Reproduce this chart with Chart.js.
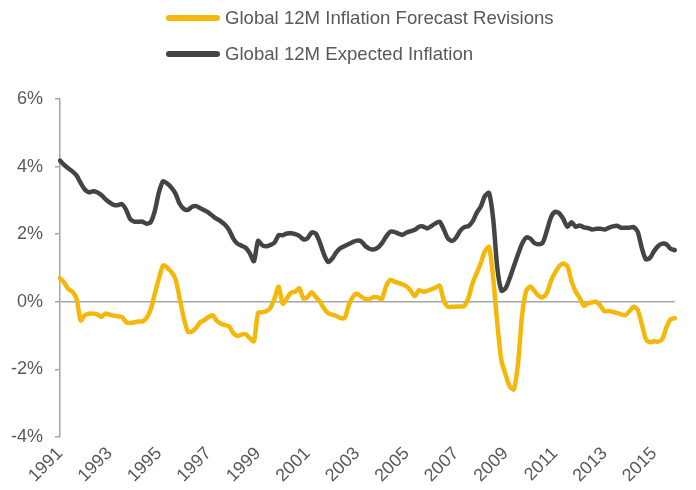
<!DOCTYPE html>
<html>
<head>
<meta charset="utf-8">
<script src="https://cdn.jsdelivr.net/npm/chart.js@4.4.1/dist/chart.umd.min.js"></script>
<style>
  body { margin: 0; background: #fff; }
  #wrap { position: relative; width: 696px; height: 490px; }
  #legend { position: absolute; left: 166px; top: 0; font-family: "Liberation Sans", Arial, sans-serif; font-size: 18.6px; color: #595959; }
  .item { position: absolute; left: 0; white-space: nowrap; height: 20px; line-height: 20px; }
  .swatch { position: absolute; left: 0; top: 7px; width: 54px; height: 6px; border-radius: 3px; }
  .item span { position: absolute; left: 59px; }
</style>
</head>
<body>
<div id="wrap">
  <canvas id="grafico" width="696" height="490"></canvas>
  <div id="legend"></div>
</div>
<script>
// every second month, Jan 1991 .. Nov 2015
const months = [];
for (let y = 1991; y <= 2015; y++) {
  for (let m = 1; m <= 11; m += 2) months.push(y + "-" + String(m).padStart(2, "0"));
}

const yearTicks = ["1991", "1993", "1995", "1997", "1999", "2001", "2003",
  "2005", "2007", "2009", "2011", "2013", "2015"];

const seriesNames = ["Global 12M Inflation Forecast Revisions", "Global 12M Expected Inflation"];
const seriesColors = ["#F4B80B", "#444444"];

// % values
const revisions = [
  0.70, 0.57, 0.38, 0.30, 0.10, -0.55, -0.40, -0.35, -0.35, -0.37, -0.45, -0.35,
  -0.38, -0.41, -0.43, -0.45, -0.60, -0.63, -0.61, -0.58, -0.58, -0.47, -0.22, 0.25,
  0.70, 1.08, 1.01, 0.88, 0.67, 0.10, -0.48, -0.88, -0.88, -0.77, -0.60, -0.54,
  -0.45, -0.40, -0.56, -0.65, -0.69, -0.73, -0.93, -1.01, -0.97, -0.96, -1.08, -1.17,
  -0.33, -0.31, -0.28, -0.18, 0.10, 0.45, -0.06, 0.10, 0.27, 0.30, 0.40, 0.10,
  0.14, 0.28, 0.14, 0.01, -0.20, -0.34, -0.38, -0.42, -0.48, -0.48, -0.10, 0.15,
  0.24, 0.15, 0.08, 0.08, 0.14, 0.13, 0.08, 0.45, 0.65, 0.60, 0.56, 0.52,
  0.45, 0.33, 0.17, 0.34, 0.30, 0.32, 0.37, 0.42, 0.48, 0.05, -0.15, -0.15,
  -0.14, -0.14, -0.12, 0.12, 0.55, 0.85, 1.15, 1.50, 1.62, 0.70, -0.65, -1.75,
  -2.15, -2.50, -2.59, -1.85, -0.40, 0.32, 0.45, 0.32, 0.18, 0.13, 0.26, 0.62,
  0.86, 1.05, 1.13, 1.05, 0.60, 0.30, 0.11, -0.12, -0.04, -0.02, 0.00, -0.12,
  -0.28, -0.27, -0.30, -0.33, -0.37, -0.40, -0.28, -0.15, -0.23, -0.65, -1.10, -1.20,
  -1.17, -1.18, -1.10, -0.75, -0.52, -0.48
];

const expected = [
  4.18, 4.05, 3.95, 3.86, 3.74, 3.52, 3.32, 3.24, 3.27, 3.24, 3.16, 3.04,
  2.94, 2.87, 2.86, 2.89, 2.73, 2.45, 2.37, 2.37, 2.37, 2.31, 2.36, 2.70,
  3.25, 3.57, 3.50, 3.38, 3.20, 2.90, 2.75, 2.72, 2.81, 2.83, 2.77, 2.71,
  2.64, 2.54, 2.45, 2.38, 2.28, 2.12, 1.87, 1.72, 1.66, 1.60, 1.44, 1.20,
  1.80, 1.68, 1.64, 1.68, 1.75, 1.97, 1.97, 2.02, 2.03, 2.00, 1.95, 1.85,
  1.88, 2.05, 2.02, 1.75, 1.40, 1.18, 1.28, 1.47, 1.59, 1.65, 1.71, 1.77,
  1.81, 1.79, 1.65, 1.57, 1.55, 1.60, 1.73, 1.92, 2.07, 2.07, 2.02, 1.98,
  2.05, 2.09, 2.13, 2.22, 2.23, 2.17, 2.24, 2.32, 2.37, 2.15, 1.88, 1.80,
  1.90, 2.10, 2.21, 2.24, 2.38, 2.63, 2.82, 3.13, 3.22, 2.45, 1.00, 0.33,
  0.40, 0.70, 1.05, 1.40, 1.72, 1.90, 1.87, 1.74, 1.70, 1.75, 2.10, 2.50,
  2.66, 2.62, 2.45, 2.22, 2.35, 2.22, 2.26, 2.20, 2.18, 2.14, 2.16, 2.16,
  2.14, 2.19, 2.23, 2.25, 2.19, 2.19, 2.19, 2.21, 2.08, 1.60, 1.26, 1.30,
  1.50, 1.65, 1.72, 1.70, 1.57, 1.53
];

const fonte = { family: "'Liberation Sans', Arial, sans-serif", size: 18 };
const cinza = "#A6A6A6";
const texto = "#595959";

const grafico = new Chart(document.getElementById("grafico"), {
  type: "line",
  data: {
    labels: months,
    datasets: [
      { label: seriesNames[0], data: revisions, borderColor: seriesColors[0] },
      { label: seriesNames[1], data: expected, borderColor: seriesColors[1] }
    ]
  },
  options: {
    responsive: false,
    animation: false,
    layout: { padding: { top: 99, right: 19, bottom: 0, left: 0 } },
    elements: {
      point: { radius: 0 },
      line: { borderWidth: 4.5, tension: 0.25, borderCapStyle: "round", borderJoinStyle: "round", fill: false }
    },
    plugins: { legend: { display: false }, tooltip: { enabled: false } },
    scales: {
      x: {
        grid: { display: false, drawTicks: false },
        border: { display: false },
        afterFit: (s) => { s.height = 53; },
        ticks: {
          autoSkip: false,
          minRotation: 45,
          maxRotation: 45,
          padding: 6,
          color: texto,
          font: fonte,
          callback: function (v) {
            const lab = this.getLabelForValue(v);
            const ano = lab.slice(0, 4);
            return lab.endsWith("-01") && yearTicks.includes(ano) ? ano : "";
          }
        }
      },
      y: {
        min: -4,
        max: 6,
        afterFit: (s) => { s.width = 60; },
        border: { color: cinza, width: 1.5 },
        grid: {
          color: (c) => (c.tick && c.tick.value === 0 ? cinza : "rgba(0,0,0,0)"),
          lineWidth: 1.5,
          tickColor: cinza,
          tickLength: 5
        },
        ticks: {
          stepSize: 2,
          padding: 12,
          color: texto,
          font: fonte,
          callback: (v) => v + "%"
        }
      }
    }
  }
});

// legend as html, stacked like the original
const leg = document.getElementById("legend");
grafico.data.datasets.forEach((ds, i) => {
  const it = document.createElement("div");
  it.className = "item";
  it.style.top = (8 + i * 36) + "px";
  it.innerHTML = '<div class="swatch" style="background:' + ds.borderColor + '"></div><span>' + ds.label + "</span>";
  leg.appendChild(it);
});
</script>
</body>
</html>
